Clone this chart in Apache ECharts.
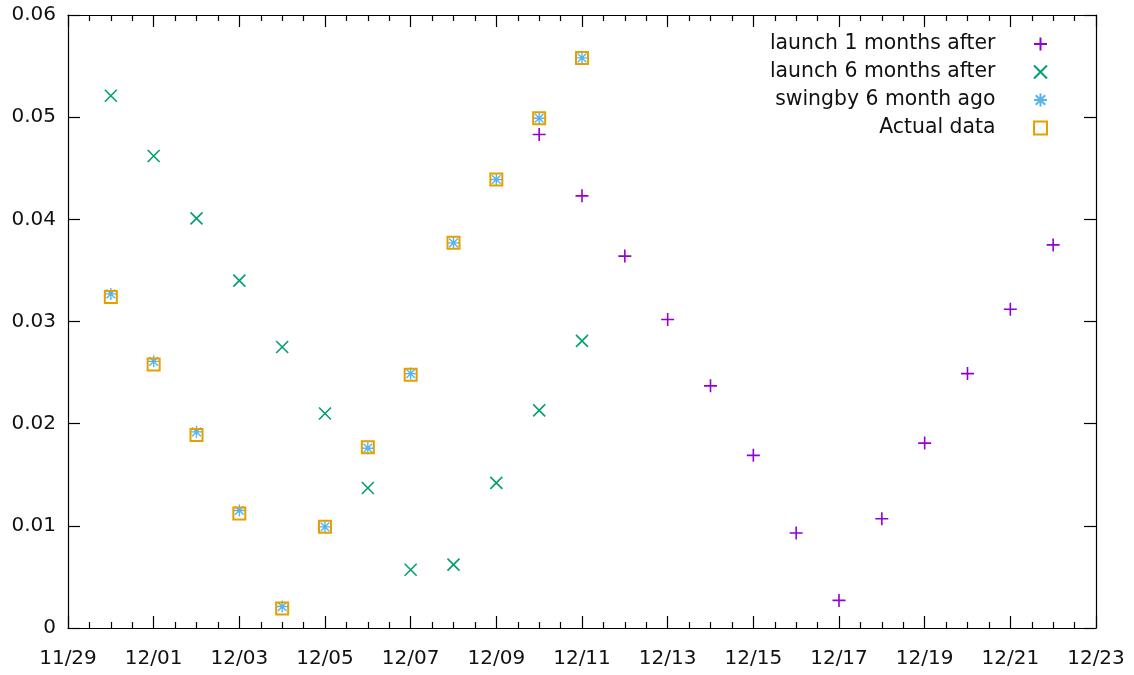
<!DOCTYPE html>
<html>
<head>
<meta charset="utf-8">
<script src="https://cdn.jsdelivr.net/npm/echarts@6/dist/echarts.min.js"></script>
<style>
  html, body { margin: 0; padding: 0; background: #fff; }
  #chart { width: 1134px; height: 675px; }
</style>
</head>
<body>
<div id="chart"></div>
<script>
// Day-by-day values, dates given as MM/DD
const launch1Dates = ['12/10', '12/11', '12/12', '12/13', '12/14', '12/15', '12/16',
                      '12/17', '12/18', '12/19', '12/20', '12/21', '12/22'];
const launch1Values = [0.0483, 0.0423, 0.0364, 0.0302, 0.0237, 0.0169, 0.0093,
                       0.0027, 0.0107, 0.0181, 0.0249, 0.0312, 0.0375];

const launch6Dates = ['11/30', '12/01', '12/02', '12/03', '12/04', '12/05',
                      '12/06', '12/07', '12/08', '12/09', '12/10', '12/11'];
const launch6Values = [0.0521, 0.0462, 0.0401, 0.0340, 0.0275, 0.0210,
                       0.0137, 0.0057, 0.0062, 0.0142, 0.0213, 0.0281];

const swingbyDates = ['11/30', '12/01', '12/02', '12/03', '12/04', '12/05',
                      '12/06', '12/07', '12/08', '12/09', '12/10', '12/11'];
const swingbyValues = [0.0327, 0.0261, 0.0192, 0.0115, 0.0021, 0.0099,
                       0.0176, 0.0249, 0.0377, 0.0439, 0.0499, 0.0558];

const actualDates = ['11/30', '12/01', '12/02', '12/03', '12/04', '12/05',
                     '12/06', '12/07', '12/08', '12/09', '12/10', '12/11'];
const actualValues = [0.0324, 0.0258, 0.0189, 0.0112, 0.0019, 0.0099,
                      0.0177, 0.0248, 0.0377, 0.0439, 0.0499, 0.0558];

const seriesNames = ['launch 1 months after', 'launch 6 months after',
                     'swingby 6 month ago', 'Actual data'];

const xTickLabels = ['11/29', '12/01', '12/03', '12/05', '12/07', '12/09', '12/11',
                     '12/13', '12/15', '12/17', '12/19', '12/21', '12/23'];

// x positions are days counted from the first tick date
const START = Date.UTC(2019, 10, 29);
function dayOffset(md) {
  const [m, d] = md.split('/').map(Number);
  return (Date.UTC(2019, m - 1, d) - START) / 86400000;
}
function pairs(dates, values) {
  return dates.map((d, i) => [dayOffset(d), values[i]]);
}

const X_MAX = dayOffset(xTickLabels[xTickLabels.length - 1]);

const FONT = '"DejaVu Sans", Verdana, sans-serif';
const TEXT = '#111';

const plusPath = 'path://M0,6.5L13,6.5M6.5,0L6.5,13';
const crossPath = 'path://M0,0L13,13M13,0L0,13';
const starPath = 'path://M0,6.5L13,6.5M6.5,0L6.5,13M1.8,1.8L11.2,11.2M11.2,1.8L1.8,11.2';
const boxPath = 'path://M0,0H13V13H0Z';

function markSeries(name, data, symbol, size, color, width) {
  return {
    type: 'scatter',
    name: name,
    data: data,
    symbol: symbol,
    symbolSize: size,
    symbolKeepAspect: true,
    silent: true,
    itemStyle: { color: 'rgba(0,0,0,0)', borderColor: color, borderWidth: width, opacity: 1 },
    emphasis: { disabled: true }
  };
}

const lineStyle = { color: '#000', width: 1.2 };
const baseX = {
  type: 'value', min: 0, max: X_MAX, interval: 2,
  axisLine: { show: true, onZero: false, lineStyle: lineStyle },
  axisTick: { show: true, inside: true, length: 12, lineStyle: lineStyle },
  minorTick: { show: true, splitNumber: 4, length: 6, lineStyle: lineStyle },
  splitLine: { show: false }
};
const baseY = {
  type: 'value', min: 0, max: 0.06, interval: 0.01,
  axisLine: { show: true, onZero: false, lineStyle: lineStyle },
  axisTick: { show: true, inside: true, length: 12, lineStyle: lineStyle },
  splitLine: { show: false }
};

const option = {
  animation: false,
  backgroundColor: '#fff',
  grid: { left: 68, right: 38, top: 15, bottom: 47, containLabel: false },
  xAxis: [
    Object.assign({}, baseX, {
      position: 'bottom',
      axisLabel: {
        show: true, margin: 21, fontSize: 20, fontFamily: FONT, color: TEXT,
        formatter: v => xTickLabels[Math.round(v / 2)]
      }
    }),
    Object.assign({}, baseX, { position: 'top', axisLabel: { show: false } })
  ],
  yAxis: [
    Object.assign({}, baseY, {
      position: 'left',
      axisLabel: {
        show: true, margin: 12, fontSize: 20, fontFamily: FONT, color: TEXT,
        formatter: v => (v === 0 ? '0' : v.toFixed(2))
      }
    }),
    Object.assign({}, baseY, { position: 'right', axisLabel: { show: false } })
  ],
  legend: {
    orient: 'vertical',
    right: 81,
    top: 29,
    align: 'right',
    itemWidth: 80,
    itemHeight: 13,
    itemGap: 8,
    selectedMode: false,
    textStyle: { fontSize: 20.4, fontFamily: FONT, color: TEXT, lineHeight: 20 },
    data: seriesNames
  },
  series: [
    markSeries(seriesNames[0], pairs(launch1Dates, launch1Values), plusPath, 13, '#9400d3', 1.6),
    markSeries(seriesNames[1], pairs(launch6Dates, launch6Values), crossPath, 12, '#009e73', 1.6),
    markSeries(seriesNames[2], pairs(swingbyDates, swingbyValues), starPath, 12, '#56b4e9', 1.4),
    markSeries(seriesNames[3], pairs(actualDates, actualValues), boxPath, 12, '#e69f00', 2)
  ]
};

const chart = echarts.init(document.getElementById('chart'), null, { renderer: 'canvas' });
chart.setOption(option);
</script>
</body>
</html>
